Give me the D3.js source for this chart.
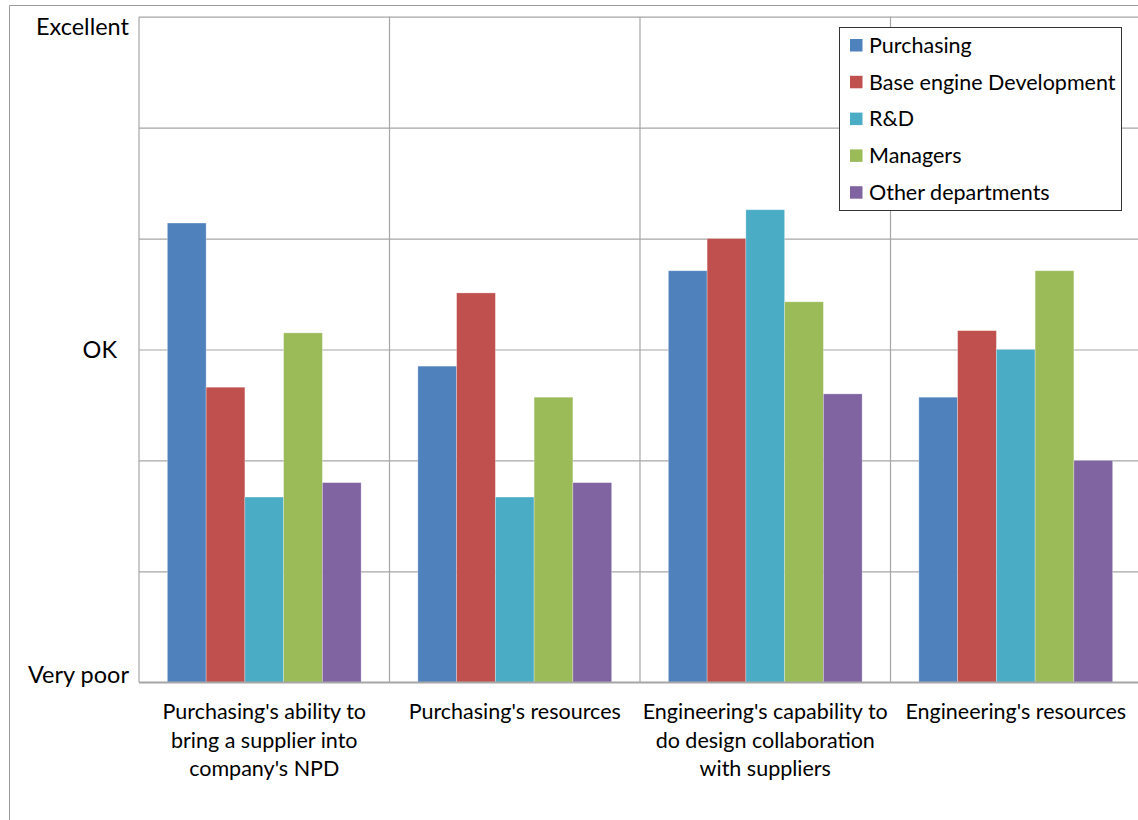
<!DOCTYPE html>
<html>
<head>
<meta charset="utf-8">
<script src="https://cdn.jsdelivr.net/npm/d3@7/dist/d3.min.js"></script>
<style>
  html, body { margin: 0; padding: 0; background: #fff; }
  svg { display: block; font-family: Lato, "Open Sans", sans-serif; }
</style>
</head>
<body>
<svg id="chart" width="1138" height="820"></svg>
<script>
// ---- data ----
const categories = [
  "Purchasing's ability to\nbring a supplier into\ncompany's NPD",
  "Purchasing's resources",
  "Engineering's capability to\ndo design collaboration\nwith suppliers",
  "Engineering's resources"
];
const series = ["Purchasing", "Base engine Development", "R&D", "Managers", "Other departments"];
const purchasing   = [4.14, 2.85, 3.71, 2.57];
const baseEngine   = [2.66, 3.51, 4.00, 3.17];
const rnd          = [1.67, 1.67, 4.26, 3.00];
const managers     = [3.15, 2.57, 3.43, 3.71];
const otherDepts   = [1.80, 1.80, 2.60, 2.00];
const seriesValues = [purchasing, baseEngine, rnd, managers, otherDepts];
const yTickValues = [0, 3, 6];
const yTickLabels = ["Very poor", "OK", "Excellent"];
const colors = ["#4F81BD", "#C0504D", "#4BACC6", "#9BBB59", "#8064A2"];

// ---- layout ----
const svg = d3.select("#chart");
const pLeft = 139, pTop = 16.7, pBottom = 682.3, pRight = 139 + 4 * 250.5;
const fontSize = 21.5;

// outer frame
svg.append("line").attr("x1", 9.5).attr("x2", 9.5).attr("y1", 5.5).attr("y2", 820)
  .attr("stroke", "#999").attr("stroke-width", 1);
svg.append("line").attr("x1", 9.5).attr("x2", 1138).attr("y1", 5.5).attr("y2", 5.5)
  .attr("stroke", "#999").attr("stroke-width", 1);

const x0 = d3.scaleBand().domain(categories).range([pLeft, pRight]).paddingInner(0).paddingOuter(0);
const x1 = d3.scaleBand().domain(series).range([0, x0.bandwidth()]).paddingInner(0).paddingOuter(0.732);
const y = d3.scaleLinear().domain([0, 6]).range([pBottom, pTop]);

// horizontal gridlines
svg.append("g")
  .attr("transform", `translate(${pLeft},0)`)
  .call(d3.axisLeft(y).ticks(6).tickSize(-(pRight - pLeft)).tickFormat(""))
  .call(g => g.select(".domain").remove())
  .call(g => g.selectAll(".tick line").attr("stroke", "#A6A6A6").attr("stroke-width", 1.2));

// vertical gridlines (category boundaries)
const bounds = categories.map(c => x0(c)).concat([pRight]);
svg.append("g").selectAll("line").data(bounds).join("line")
  .attr("x1", d => d).attr("x2", d => d)
  .attr("y1", pTop).attr("y2", pBottom)
  .attr("stroke", "#A6A6A6").attr("stroke-width", 1.2);

// bars
const groups = svg.append("g").selectAll("g").data(categories).join("g")
  .attr("transform", c => `translate(${x0(c)},0)`);
groups.selectAll("rect")
  .data((c, ci) => series.map((s, si) => ({ s, si, v: seriesValues[si][ci] })))
  .join("rect")
  .attr("x", d => x1(d.s))
  .attr("width", x1.bandwidth())
  .attr("y", d => y(d.v))
  .attr("height", d => y(0) - y(d.v))
  .attr("fill", d => colors[d.si])
  .attr("stroke", "rgba(255,255,255,0.35)")
  .attr("stroke-width", 0.8);

// bottom axis line
svg.append("line").attr("x1", pLeft).attr("x2", pRight).attr("y1", pBottom).attr("y2", pBottom)
  .attr("stroke", "#A6A6A6").attr("stroke-width", 1.4);

// y labels
svg.append("g").selectAll("text").data(yTickValues).join("text")
  .attr("x", d => d === 3 ? 117 : 129)
  .attr("y", d => Math.min(Math.max(y(d), pTop + 10), pBottom - 8))
  .attr("dy", "0.36em")
  .attr("text-anchor", "end")
  .attr("font-size", 23.5)
  .attr("fill", "#000")
  .text((d, i) => yTickLabels[i]);

// category labels
const catG = svg.append("g").selectAll("text").data(categories).join("text")
  .attr("x", c => x0(c) + x0.bandwidth() / 2)
  .attr("y", 719)
  .attr("text-anchor", "middle")
  .attr("font-size", fontSize)
  .attr("fill", "#000");
catG.selectAll("tspan").data(c => c.split("\n")).join("tspan")
  .attr("x", function () { return d3.select(this.parentNode).attr("x"); })
  .attr("dy", (d, i) => i === 0 ? 0 : 28.5)
  .text(d => d);

// legend
const lg = svg.append("g");
lg.append("rect").attr("x", 839.5).attr("y", 27.5).attr("width", 282).attr("height", 183)
  .attr("fill", "#fff").attr("stroke", "#333").attr("stroke-width", 1);
const items = lg.selectAll("g.item").data(series).join("g").attr("class", "item")
  .attr("transform", (d, i) => `translate(850, ${45 + i * 36.8})`);
items.append("rect").attr("x", 0).attr("y", -6).attr("width", 12.5).attr("height", 12.5)
  .attr("fill", (d, i) => colors[i]);
items.append("text").attr("x", 19).attr("dy", "0.36em")
  .attr("font-size", fontSize).attr("fill", "#000").text(d => d);
</script>
</body>
</html>
